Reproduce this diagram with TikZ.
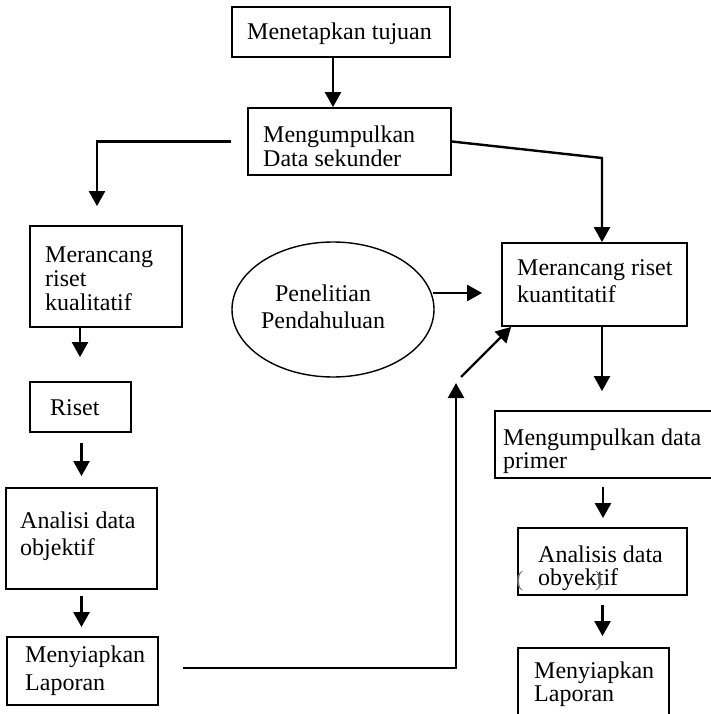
\documentclass[tikz,border=0pt]{standalone}
\usepackage{fontspec}
\setmainfont{Liberation Serif}
\usetikzlibrary{arrows.meta,shapes.geometric}
\begin{document}
\begin{tikzpicture}[x=1pt,y=-1pt,
  box/.style={draw, line width=1.8pt, inner sep=0pt},
  txt/.style={inner sep=0pt, anchor=base west, font=\fontsize{24}{24}\selectfont},
  ctxt/.style={inner sep=0pt, anchor=base, font=\fontsize{24}{24}\selectfont},
  paren/.style={inner sep=0pt, anchor=base west, text=black!60, font=\fontsize{22}{22}\selectfont},
  arr/.style={line width=2.4pt, -{Triangle[length=15pt,width=16pt]}}]
\useasboundingbox (0,0) rectangle (710,714);

% boxes
\node[box, minimum width=218pt, minimum height=50pt] (b1) at (341,32) {};
\node[box, minimum width=203pt, minimum height=67pt] (b2) at (349.5,141.5) {};
\node[box, minimum width=152pt, minimum height=101pt] (kual) at (106,276.5) {};
\node[box, minimum width=101pt, minimum height=50pt] (riset) at (80.5,407) {};
\node[box, minimum width=151pt, minimum height=101pt] (anal) at (81.5,538.5) {};
\node[box, minimum width=151pt, minimum height=68pt] (lap1) at (82.5,671) {};
\node[draw, ellipse, line width=1.4pt, minimum width=202pt, minimum height=135pt, inner sep=0pt] (ell) at (333,309.5) {};
\node[box, minimum width=185pt, minimum height=83pt] (kuan) at (594.5,284.5) {};
\node[box, minimum width=220pt, minimum height=67pt] (prim) at (605,444.5) {};
\node[box, minimum width=169pt, minimum height=67pt] (an2) at (602.5,561.5) {};
\node[box, minimum width=151pt, minimum height=76pt] (lap2) at (593.5,686) {};

% texts
\node[txt] (t1) at (247,40) {Menetapkan tujuan};
\node[txt] (t2) at (263,143) {\begin{tabular}[t]{@{}l@{}}Mengumpulkan\\Data sekunder\end{tabular}};
\node[txt] (t3) at (45,262) {\begin{tabular}[t]{@{}l@{}}Merancang\\riset\\kualitatif\end{tabular}};
\node[txt] (t4) at (50,415) {Riset};
\node[txt] (t5) at (20,528) {\begin{tabular}[t]{@{}l@{}}Analisi data\\[3pt]objektif\end{tabular}};
\node[txt] (t6) at (25,662) {\begin{tabular}[t]{@{}l@{}}Menyiapkan\\[4pt]Laporan\end{tabular}};
\node[ctxt] (t7) at (323,301) {\begin{tabular}[t]{@{}c@{}}Penelitian\\[3pt]Pendahuluan\end{tabular}};
\node[txt] (t8) at (517,275) {\begin{tabular}[t]{@{}l@{}}Merancang riset\\[3pt]kuantitatif\end{tabular}};
\node[txt] (t9) at (503,445) {\begin{tabular}[t]{@{}l@{}}Mengumpulkan data\\[-1pt]primer\end{tabular}};
\node[txt] (t10) at (538,562) {\begin{tabular}[t]{@{}l@{}}Analisis data\\[-1pt]obyektif\end{tabular}};
\node[paren] (p1) at (516,586) {(};
\node[paren] (p2) at (595,586) {)};
\node[txt] (t11) at (534,678) {\begin{tabular}[t]{@{}l@{}}Menyiapkan\\[-1pt]Laporan\end{tabular}};

% connectors
\coordinate (k3) at (602,158);
\coordinate (k7) at (456,383);
\coordinate (k8) at (461,377);
\coordinate (k9) at (433,293);

\draw[arr] ([xshift=-8pt]b1.south) -- ([xshift=-8pt]b1.south |- b2.north);
\draw[arr, shorten >=19pt] ([xshift=-16pt]b2.west) -| ([xshift=-9pt]kual.north);
\draw[arr] (b2.east) -- (k3) -- (k3 |- kuan.north);
\draw[arr, shorten >=24pt] ([xshift=-26pt]kual.south) -- ([xshift=-26pt]kual.south |- riset.north);
\draw[arr, shorten <=10pt, shorten >=11pt] (riset.south -| anal.north) -- (anal.north);
\draw[arr, shorten <=6pt, shorten >=9pt] (anal.south) -- (anal.south |- lap1.north);
\draw[arr, shorten <=24pt] ([yshift=3pt]lap1.east) -| (k7);
\draw[arr] (k8) -- ([xshift=10pt]kuan.south west);
\draw[arr, shorten >=19pt] (k9) -- (k9 -| kuan.west);
\draw[arr, shorten >=19pt] ([xshift=7.5pt]kuan.south) -- ([xshift=7.5pt]kuan.south |- prim.north);
\draw[arr, shorten <=8pt, shorten >=9pt] ([xshift=-2pt]prim.south) -- ([xshift=-2pt]prim.south |- an2.north);
\draw[arr, shorten <=9pt, shorten >=11pt] (an2.south) -- (an2.south |- lap2.north);
\end{tikzpicture}
\end{document}
